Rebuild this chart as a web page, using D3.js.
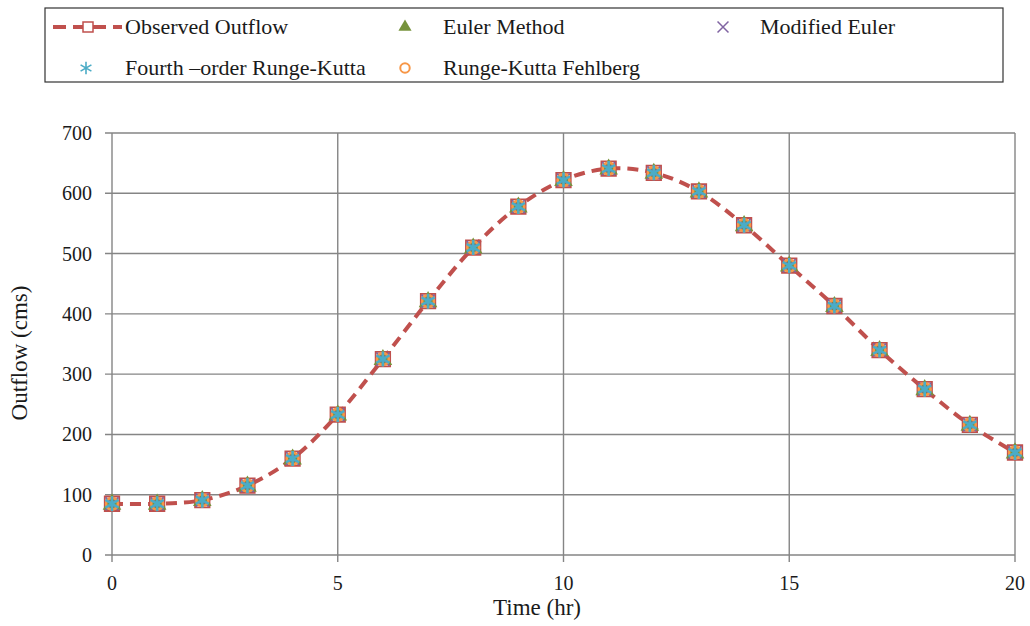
<!DOCTYPE html>
<html>
<head>
<meta charset="utf-8">
<script src="https://cdn.jsdelivr.net/npm/d3@7"></script>
<style>
  body { margin: 0; background: #fff; }
  svg text { font-family: "Liberation Serif", "Times New Roman", serif; fill: #1a1a1a; }
</style>
</head>
<body>
<div id="chart"></div>
<script>
var w = 1030;
var h = 626;

// time steps (hr)
var times = [0, 1, 2, 3, 4, 5, 6, 7, 8, 9, 10, 11, 12, 13, 14, 15, 16, 17, 18, 19, 20];
// outflow series (cms)
var observed = [85, 85, 91, 115, 160, 233, 325, 421, 510, 578, 622, 641, 634, 603, 547, 480, 413, 340, 275, 216, 170];
var euler = [84, 84, 90, 114, 159, 232, 324, 420, 509, 577, 621, 640, 633, 602, 546, 479, 412, 339, 274, 215, 169];
var modEuler = [85, 85, 91, 115, 160, 233, 325, 421, 510, 578, 622, 641, 634, 603, 547, 480, 413, 340, 275, 216, 170];
var rk4 = [85, 85, 91, 115, 160, 233, 325, 421, 510, 578, 622, 641, 634, 603, 547, 480, 413, 340, 275, 216, 170];
var rkf = [85, 85, 91, 115, 160, 233, 325, 421, 510, 578, 622, 641, 634, 603, 547, 480, 413, 340, 275, 216, 170];

var xTicks = [0, 5, 10, 15, 20];
var yTicks = [0, 100, 200, 300, 400, 500, 600, 700];

var red = "#C0504D", green = "#77933C", purple = "#8064A2", teal = "#4BACC6", orange = "#F79646";

var svg = d3.select("#chart").append("svg").attr("width", w).attr("height", h);

var x = d3.scaleLinear().domain([0, 20]).range([112, 1015]);
var y = d3.scaleLinear().domain([0, 700]).range([555, 133]);

// gridlines
svg.append("g")
  .selectAll("line.hg")
  .data(yTicks)
  .enter()
  .append("line")
  .attr("x1", x(0) - 7)
  .attr("x2", x(20))
  .attr("y1", function (d) { return y(d); })
  .attr("y2", function (d) { return y(d); })
  .attr("stroke", "#858585")
  .attr("stroke-width", 1.4);

svg.append("g")
  .selectAll("line.vg")
  .data(xTicks)
  .enter()
  .append("line")
  .attr("x1", function (d) { return x(d); })
  .attr("x2", function (d) { return x(d); })
  .attr("y1", y(700))
  .attr("y2", y(0) + 7)
  .attr("stroke", "#858585")
  .attr("stroke-width", 1.4);

// tick labels
svg.append("g")
  .selectAll("text")
  .data(yTicks)
  .enter()
  .append("text")
  .text(function (d) { return d; })
  .attr("x", 92)
  .attr("y", function (d) { return y(d) + 7; })
  .attr("text-anchor", "end")
  .attr("font-size", "20px");

svg.append("g")
  .selectAll("text")
  .data(xTicks)
  .enter()
  .append("text")
  .text(function (d) { return d; })
  .attr("x", function (d) { return x(d); })
  .attr("y", 590)
  .attr("text-anchor", "middle")
  .attr("font-size", "20px");

// axis titles
svg.append("text")
  .text("Time (hr)")
  .attr("x", 537)
  .attr("y", 615)
  .attr("text-anchor", "middle")
  .attr("font-size", "23px");

svg.append("text")
  .text("Outflow (cms)")
  .attr("transform", "translate(27,353) rotate(-90)")
  .attr("text-anchor", "middle")
  .attr("font-size", "23px");

// observed dashed line
var line = d3.line()
  .x(function (d, i) { return x(times[i]); })
  .y(function (d) { return y(d); })
  .curve(d3.curveCatmullRom.alpha(0.5));

svg.append("path")
  .datum(observed)
  .attr("d", line)
  .attr("fill", "none")
  .attr("stroke", red)
  .attr("stroke-width", 4)
  .attr("stroke-dasharray", "11,7");

var symSquare = d3.symbol().type(d3.symbolSquare).size(210);
var symTri = d3.symbol().type(d3.symbolTriangle).size(150);
var symX = d3.symbol().type(d3.symbolX).size(110);
var symStar = d3.symbol().type(d3.symbolAsterisk).size(160);
var symCircle = d3.symbol().type(d3.symbolCircle).size(110);

function drawMarks(values, sym, fill, stroke, sw) {
  svg.append("g")
    .selectAll("path")
    .data(values)
    .enter()
    .append("path")
    .attr("d", sym)
    .attr("transform", function (d, i) { return "translate(" + x(times[i]) + "," + y(d) + ")"; })
    .attr("fill", fill)
    .attr("stroke", stroke)
    .attr("stroke-width", sw);
}

drawMarks(observed, symSquare, "none", red, 1.8);
drawMarks(euler, symTri, green, "none", 0);
drawMarks(modEuler, symX, "none", purple, 1.8);
drawMarks(rkf, symCircle, "none", orange, 2.6);
drawMarks(rk4, symStar, "none", teal, 2.6);

// legend
svg.append("rect")
  .attr("x", 45)
  .attr("y", 8)
  .attr("width", 958)
  .attr("height", 74)
  .attr("fill", "#fff")
  .attr("stroke", "#333")
  .attr("stroke-width", 1.2);

var legendItems = [
  { label: "Observed Outflow", sym: symSquare, size: 100, fill: "#fff", stroke: red, sw: 1.5, mx: 88, tx: 125, ty: 27, line: true },
  { label: "Euler Method", sym: symTri, size: 75, fill: green, stroke: "none", sw: 0, mx: 405, tx: 443, ty: 27 },
  { label: "Modified Euler", sym: symX, size: 80, fill: "none", stroke: purple, sw: 1.5, mx: 723, tx: 760, ty: 27 },
  { label: "Fourth \u2013order Runge-Kutta", sym: symStar, size: 110, fill: "none", stroke: teal, sw: 1.6, mx: 86, tx: 125, ty: 68 },
  { label: "Runge-Kutta Fehlberg", sym: symCircle, size: 70, fill: "none", stroke: orange, sw: 2, mx: 405, tx: 443, ty: 68 }
];

legendItems.forEach(function (d) {
  if (d.line) {
    svg.append("line")
      .attr("x1", 53).attr("x2", 122)
      .attr("y1", d.ty).attr("y2", d.ty)
      .attr("stroke", red)
      .attr("stroke-width", 4)
      .attr("stroke-dasharray", "13,7");
  }
  svg.append("path")
    .attr("d", d.sym.size(d.size)())
    .attr("transform", "translate(" + d.mx + "," + d.ty + ")")
    .attr("fill", d.fill)
    .attr("stroke", d.stroke)
    .attr("stroke-width", d.sw);
  svg.append("text")
    .text(d.label)
    .attr("x", d.tx)
    .attr("y", d.ty + 7)
    .attr("font-size", "22px");
});
</script>
</body>
</html>
